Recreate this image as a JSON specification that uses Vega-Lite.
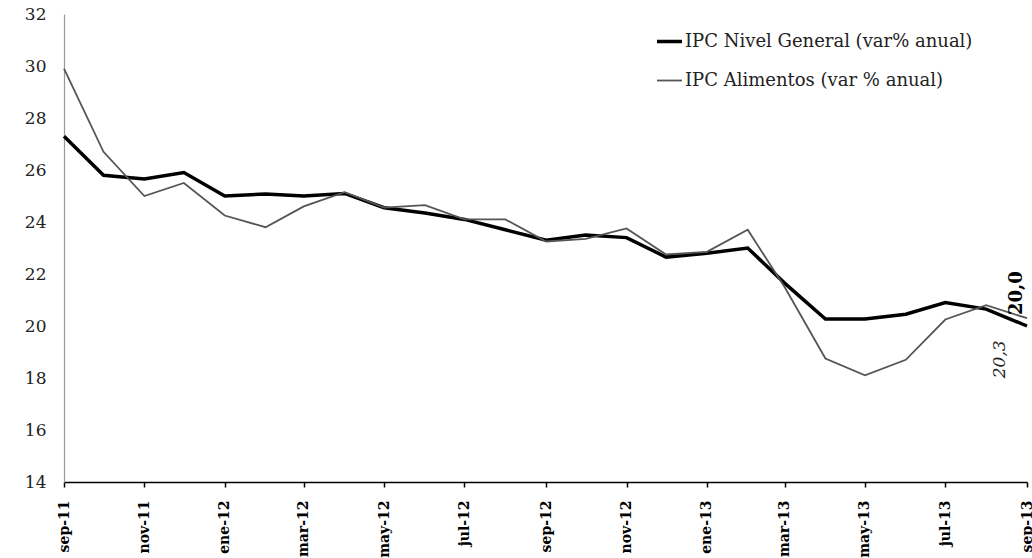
{
  "$schema": "https://vega.github.io/schema/vega-lite/v6.json",
  "width": 963,
  "height": 468,
  "autosize": {"type": "none"},
  "padding": {"left": 64, "top": 14, "right": 5, "bottom": 76},
  "background": "white",
  "config": {
    "view": {"stroke": null},
    "font": "DejaVu Serif"
  },
  "layer": [
    {
      "data": {
        "values": [
          {"date": "2011-09-01", "serie": "IPC Nivel General (var% anual)", "valor": 27.3},
          {"date": "2011-10-01", "serie": "IPC Nivel General (var% anual)", "valor": 25.8},
          {"date": "2011-11-01", "serie": "IPC Nivel General (var% anual)", "valor": 25.65},
          {"date": "2011-12-01", "serie": "IPC Nivel General (var% anual)", "valor": 25.9},
          {"date": "2012-01-01", "serie": "IPC Nivel General (var% anual)", "valor": 25.0},
          {"date": "2012-02-01", "serie": "IPC Nivel General (var% anual)", "valor": 25.08},
          {"date": "2012-03-01", "serie": "IPC Nivel General (var% anual)", "valor": 25.0},
          {"date": "2012-04-01", "serie": "IPC Nivel General (var% anual)", "valor": 25.1},
          {"date": "2012-05-01", "serie": "IPC Nivel General (var% anual)", "valor": 24.55},
          {"date": "2012-06-01", "serie": "IPC Nivel General (var% anual)", "valor": 24.35},
          {"date": "2012-07-01", "serie": "IPC Nivel General (var% anual)", "valor": 24.1},
          {"date": "2012-08-01", "serie": "IPC Nivel General (var% anual)", "valor": 23.7},
          {"date": "2012-09-01", "serie": "IPC Nivel General (var% anual)", "valor": 23.3},
          {"date": "2012-10-01", "serie": "IPC Nivel General (var% anual)", "valor": 23.5},
          {"date": "2012-11-01", "serie": "IPC Nivel General (var% anual)", "valor": 23.4},
          {"date": "2012-12-01", "serie": "IPC Nivel General (var% anual)", "valor": 22.65},
          {"date": "2013-01-01", "serie": "IPC Nivel General (var% anual)", "valor": 22.8},
          {"date": "2013-02-01", "serie": "IPC Nivel General (var% anual)", "valor": 23.0},
          {"date": "2013-03-01", "serie": "IPC Nivel General (var% anual)", "valor": 21.65},
          {"date": "2013-04-01", "serie": "IPC Nivel General (var% anual)", "valor": 20.27},
          {"date": "2013-05-01", "serie": "IPC Nivel General (var% anual)", "valor": 20.27},
          {"date": "2013-06-01", "serie": "IPC Nivel General (var% anual)", "valor": 20.45},
          {"date": "2013-07-01", "serie": "IPC Nivel General (var% anual)", "valor": 20.9},
          {"date": "2013-08-01", "serie": "IPC Nivel General (var% anual)", "valor": 20.65},
          {"date": "2013-09-01", "serie": "IPC Nivel General (var% anual)", "valor": 20.0},
          {"date": "2011-09-01", "serie": "IPC Alimentos (var % anual)", "valor": 29.9},
          {"date": "2011-10-01", "serie": "IPC Alimentos (var % anual)", "valor": 26.7},
          {"date": "2011-11-01", "serie": "IPC Alimentos (var % anual)", "valor": 25.0},
          {"date": "2011-12-01", "serie": "IPC Alimentos (var % anual)", "valor": 25.5},
          {"date": "2012-01-01", "serie": "IPC Alimentos (var % anual)", "valor": 24.25},
          {"date": "2012-02-01", "serie": "IPC Alimentos (var % anual)", "valor": 23.8},
          {"date": "2012-03-01", "serie": "IPC Alimentos (var % anual)", "valor": 24.6},
          {"date": "2012-04-01", "serie": "IPC Alimentos (var % anual)", "valor": 25.15},
          {"date": "2012-05-01", "serie": "IPC Alimentos (var % anual)", "valor": 24.55},
          {"date": "2012-06-01", "serie": "IPC Alimentos (var % anual)", "valor": 24.65},
          {"date": "2012-07-01", "serie": "IPC Alimentos (var % anual)", "valor": 24.1},
          {"date": "2012-08-01", "serie": "IPC Alimentos (var % anual)", "valor": 24.1},
          {"date": "2012-09-01", "serie": "IPC Alimentos (var % anual)", "valor": 23.25},
          {"date": "2012-10-01", "serie": "IPC Alimentos (var % anual)", "valor": 23.35},
          {"date": "2012-11-01", "serie": "IPC Alimentos (var % anual)", "valor": 23.75},
          {"date": "2012-12-01", "serie": "IPC Alimentos (var % anual)", "valor": 22.75},
          {"date": "2013-01-01", "serie": "IPC Alimentos (var % anual)", "valor": 22.85},
          {"date": "2013-02-01", "serie": "IPC Alimentos (var % anual)", "valor": 23.7},
          {"date": "2013-03-01", "serie": "IPC Alimentos (var % anual)", "valor": 21.5},
          {"date": "2013-04-01", "serie": "IPC Alimentos (var % anual)", "valor": 18.75},
          {"date": "2013-05-01", "serie": "IPC Alimentos (var % anual)", "valor": 18.1},
          {"date": "2013-06-01", "serie": "IPC Alimentos (var % anual)", "valor": 18.7},
          {"date": "2013-07-01", "serie": "IPC Alimentos (var % anual)", "valor": 20.25},
          {"date": "2013-08-01", "serie": "IPC Alimentos (var % anual)", "valor": 20.8},
          {"date": "2013-09-01", "serie": "IPC Alimentos (var % anual)", "valor": 20.3}
        ]
      },
      "mark": {"type": "line", "strokeJoin": "miter"},
      "encoding": {
        "x": {
          "field": "date",
          "type": "temporal",
          "scale": {"type": "utc", "nice": false, "domain": [{"year": 2011, "month": 9, "date": 1, "utc": true}, {"year": 2013, "month": 9, "date": 1, "utc": true}]},
          "axis": {
            "title": null,
            "values": [
              {"year": 2011, "month": 9, "date": 1, "utc": true},
              {"year": 2011, "month": 11, "date": 1, "utc": true},
              {"year": 2012, "month": 1, "date": 1, "utc": true},
              {"year": 2012, "month": 3, "date": 1, "utc": true},
              {"year": 2012, "month": 5, "date": 1, "utc": true},
              {"year": 2012, "month": 7, "date": 1, "utc": true},
              {"year": 2012, "month": 9, "date": 1, "utc": true},
              {"year": 2012, "month": 11, "date": 1, "utc": true},
              {"year": 2013, "month": 1, "date": 1, "utc": true},
              {"year": 2013, "month": 3, "date": 1, "utc": true},
              {"year": 2013, "month": 5, "date": 1, "utc": true},
              {"year": 2013, "month": 7, "date": 1, "utc": true},
              {"year": 2013, "month": 9, "date": 1, "utc": true}
            ],
            "labelExpr": "['ene','feb','mar','abr','may','jun','jul','ago','sep','oct','nov','dic'][utcmonth(datum.value)] + '-' + utcFormat(datum.value, '%y')",
            "labelAngle": -90,
            "labelFont": "DejaVu Serif",
            "labelFontWeight": "bold",
            "labelFontSize": 14,
            "labelColor": "black",
            "labelPadding": 13,
            "labelOverlap": false,
            "labelBound": false,
            "labelFlush": false,
            "domainColor": "black",
            "domainWidth": 1.5,
            "tickColor": "black",
            "tickWidth": 1.5,
            "tickSize": 5,
            "grid": false
          }
        },
        "y": {
          "field": "valor",
          "type": "quantitative",
          "scale": {"domain": [14, 32], "nice": false, "zero": false},
          "axis": {
            "title": null,
            "values": [14, 16, 18, 20, 22, 24, 26, 28, 30, 32],
            "ticks": false,
            "grid": false,
            "domainColor": "#999999",
            "domainWidth": 1.2,
            "labelFont": "DejaVu Serif",
            "labelFontSize": 17,
            "labelColor": "#222222",
            "labelPadding": 18,
            "labelFlush": false
          }
        },
        "color": {
          "field": "serie",
          "type": "nominal",
          "scale": {"domain": ["IPC Nivel General (var% anual)", "IPC Alimentos (var % anual)"], "range": ["#000000", "#555555"]},
          "legend": {
            "title": null,
            "orient": "none",
            "legendX": 591,
            "legendY": 13,
            "padding": 0,
            "symbolType": "stroke",
            "symbolSize": 625,
            "labelFont": "DejaVu Serif",
            "labelFontSize": 18,
            "labelColor": "#222222",
            "labelOffset": 1,
            "rowPadding": 16,
            "labelLimit": 400
          }
        },
        "strokeWidth": {
          "field": "serie",
          "type": "ordinal",
          "scale": {"domain": ["IPC Nivel General (var% anual)", "IPC Alimentos (var % anual)"], "range": [3.5, 1.8]},
          "legend": {
            "title": null,
            "orient": "none",
            "legendX": 591,
            "legendY": 13,
            "padding": 0,
            "symbolType": "stroke",
            "symbolSize": 625,
            "labelFont": "DejaVu Serif",
            "labelFontSize": 18,
            "labelColor": "#222222",
            "labelOffset": 1,
            "rowPadding": 16,
            "labelLimit": 400
          }
        }
      }
    },
    {
      "data": {"values": [{"date": "2013-09-01", "valor": 20.0, "etiqueta": "20,0"}]},
      "mark": {"type": "text", "angle": 270, "align": "left", "baseline": "middle", "dx": 11, "dy": -10, "font": "DejaVu Serif", "fontWeight": "bold", "fontSize": 18, "color": "black"},
      "encoding": {
        "x": {"field": "date", "type": "temporal"},
        "y": {"field": "valor", "type": "quantitative"},
        "text": {"field": "etiqueta"}
      }
    },
    {
      "data": {"values": [{"date": "2013-09-01", "valor": 20.3, "etiqueta": "20,3"}]},
      "mark": {"type": "text", "angle": 270, "align": "left", "baseline": "middle", "dx": -60, "dy": -27, "font": "DejaVu Serif", "fontStyle": "italic", "fontSize": 17, "color": "#222222"},
      "encoding": {
        "x": {"field": "date", "type": "temporal"},
        "y": {"field": "valor", "type": "quantitative"},
        "text": {"field": "etiqueta"}
      }
    }
  ]
}
